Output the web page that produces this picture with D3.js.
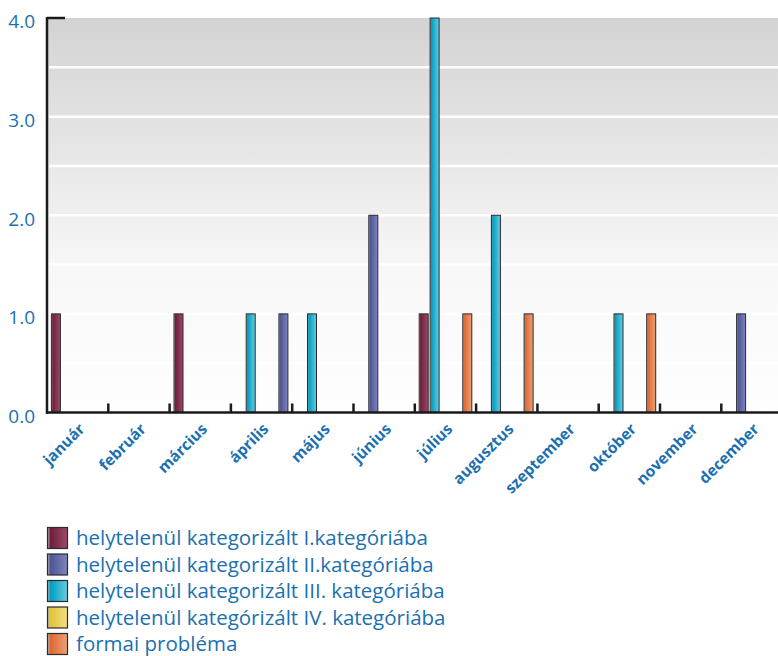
<!DOCTYPE html>
<html>
<head>
<meta charset="utf-8">
<script src="https://cdn.jsdelivr.net/npm/d3@7"></script>
<style>
  body { margin: 0; background: #fff; }
  svg { display: block; }
  .ylab { font-family: "Open Sans", sans-serif; font-size: 19px; fill: #1b70b0; }
  .xlab { font-family: "Open Sans", sans-serif; font-size: 15.5px; font-weight: bold; fill: #1b70b0; }
  .leg { font-family: "Open Sans", sans-serif; font-size: 20.5px; fill: #1b70b0; }
</style>
</head>
<body>
<svg id="chart" width="778" height="656"></svg>
<script>
// months on the category axis
var months = ["január", "február", "március", "április", "május", "június",
              "július", "augusztus", "szeptember", "október", "november", "december"];

var seriesNames = [
    "helytelenül kategorizált I.kategóriába",
    "helytelenül kategorizált II.kategóriába",
    "helytelenül kategorizált III. kategóriába",
    "helytelenül kategórizált IV. kategóriába",
    "formai probléma"
];

// monthly counts, one array per series
var catI   = [1, 0, 1, 0, 0, 0, 1, 0, 0, 0, 0, 0];
var catII  = [0, 0, 0, 1, 0, 2, 0, 0, 0, 0, 0, 1];
var catIII = [0, 0, 0, 1, 1, 0, 4, 2, 0, 1, 0, 0];
var catIV  = [0, 0, 0, 0, 0, 0, 0, 0, 0, 0, 0, 0];
var formai = [0, 0, 0, 0, 0, 0, 1, 1, 0, 1, 0, 0];

var yTicks = [0, 1, 2, 3, 4];
var yGrid = [0.5, 1, 1.5, 2, 2.5, 3, 3.5];

// sub-slot each series uses inside its month, plus one odd placement
var seriesSlot = [0, 1, 1, 2, 4];
var slotOverride = [{month: "április", series: 1, slot: 4}];

var seriesColors = [
    ["#6e1f3c", "#9b4a68"],
    ["#4f5596", "#7f84bd"],
    ["#009fc2", "#66cbe2"],
    ["#e2c23e", "#f2df80"],
    ["#dc6a34", "#eea077"]
];

var series = [catI, catII, catIII, catIV, formai];

var svg = d3.select("#chart");
var mLeft = 47, mTop = 18, mBottom = 412.5;

var x = d3.scaleBand().domain(months).range([mLeft, mLeft + 12 * 61.3]);
var slot = d3.scaleBand().domain([0, 1, 2, 3, 4]).range([3.9, 57.5]).paddingInner(0.083);
var y = d3.scaleLinear().domain([0, 4]).range([mBottom, mTop]);

var defs = svg.append("defs");
var bg = defs.append("linearGradient").attr("id", "bg")
    .attr("x1", 0).attr("y1", 0).attr("x2", 0).attr("y2", 1);
bg.append("stop").attr("offset", "0%").attr("stop-color", "#d3d3d3");
bg.append("stop").attr("offset", "65%").attr("stop-color", "#f8f8f8");
bg.append("stop").attr("offset", "100%").attr("stop-color", "#fefefe");

seriesColors.forEach(function(c, i) {
    var g = defs.append("linearGradient").attr("id", "g" + i)
        .attr("x1", 0).attr("y1", 0).attr("x2", 1).attr("y2", 0);
    g.append("stop").attr("offset", "0%").attr("stop-color", "#b8b8b8");
    g.append("stop").attr("offset", "15%").attr("stop-color", c[0]);
    g.append("stop").attr("offset", "100%").attr("stop-color", c[1]);
});

// plot background
svg.append("rect")
    .attr("x", mLeft).attr("y", y(4))
    .attr("width", 778 - mLeft).attr("height", y(0) - y(4))
    .attr("fill", "url(#bg)");

svg.selectAll(".grid")
    .data(yGrid)
    .enter().append("line")
    .attr("class", "grid")
    .attr("x1", mLeft + 2).attr("x2", 778)
    .attr("y1", function(d) { return y(d); })
    .attr("y2", function(d) { return y(d); })
    .attr("stroke", "#fff").attr("stroke-width", 2.5);

// bars
function slotFor(s, m) {
    var o = slotOverride.filter(function(d) { return d.series == s && d.month == m; });
    return o.length ? o[0].slot : seriesSlot[s];
}

var bars = [];
series.forEach(function(vals, s) {
    vals.forEach(function(v, i) {
        if (v > 0) bars.push({s: s, month: months[i], v: v});
    });
});

svg.selectAll(".bar")
    .data(bars)
    .enter().append("rect")
    .attr("class", "bar")
    .attr("x", function(d) { return x(d.month) + slot(slotFor(d.s, d.month)) + 0.5; })
    .attr("y", function(d) { return y(d.v); })
    .attr("width", slot.bandwidth() - 1)
    .attr("height", function(d) { return y(0) - y(d.v); })
    .attr("fill", function(d) { return "url(#g" + d.s + ")"; })
    .attr("stroke", "#2a2a2a").attr("stroke-width", 1);

// axes
svg.append("line")
    .attr("x1", mLeft).attr("x2", mLeft)
    .attr("y1", y(4) - 1).attr("y2", y(0) + 1.5)
    .attr("stroke", "#1a1a1a").attr("stroke-width", 2.5);
svg.append("line")
    .attr("x1", mLeft).attr("x2", mLeft + 18)
    .attr("y1", y(4)).attr("y2", y(4))
    .attr("stroke", "#1a1a1a").attr("stroke-width", 2.5);
svg.append("line")
    .attr("x1", mLeft).attr("x2", 778)
    .attr("y1", y(0)).attr("y2", y(0))
    .attr("stroke", "#1a1a1a").attr("stroke-width", 2.5);

svg.selectAll(".xtick")
    .data(months.slice(1))
    .enter().append("line")
    .attr("class", "xtick")
    .attr("x1", function(d) { return x(d); })
    .attr("x2", function(d) { return x(d); })
    .attr("y1", y(0) - 9).attr("y2", y(0))
    .attr("stroke", "#1a1a1a").attr("stroke-width", 2.5);

svg.selectAll(".ylab")
    .data(yTicks)
    .enter().append("text")
    .attr("class", "ylab")
    .attr("x", 35)
    .attr("y", function(d) { return y(d) + 3.5; })
    .attr("dy", "0.36em")
    .attr("text-anchor", "end")
    .text(function(d) { return d3.format(".1f")(d); });

svg.selectAll(".xlab")
    .data(months)
    .enter().append("text")
    .attr("class", "xlab")
    .attr("text-anchor", "end")
    .attr("transform", function(d) {
        return "translate(" + (x(d) + x.bandwidth() / 2 + 8) + "," + 430 + ") rotate(-45)"; })
    .text(function(d) { return d; });

// legend
var leg = svg.selectAll(".legitem")
    .data(seriesNames)
    .enter().append("g")
    .attr("class", "legitem")
    .attr("transform", function(d, i) {
        return "translate(47," + (527 + i * 26.5) + ")"; });

leg.append("rect")
    .attr("x", 0.5).attr("y", 0.5)
    .attr("width", 20).attr("height", 21)
    .attr("fill", function(d, i) { return "url(#g" + i + ")"; })
    .attr("stroke", "#2a2a2a").attr("stroke-width", 1.2);

leg.append("text")
    .attr("class", "leg")
    .attr("x", 29).attr("y", 11)
    .attr("dy", "0.36em")
    .text(function(d) { return d; });
</script>
</body>
</html>
